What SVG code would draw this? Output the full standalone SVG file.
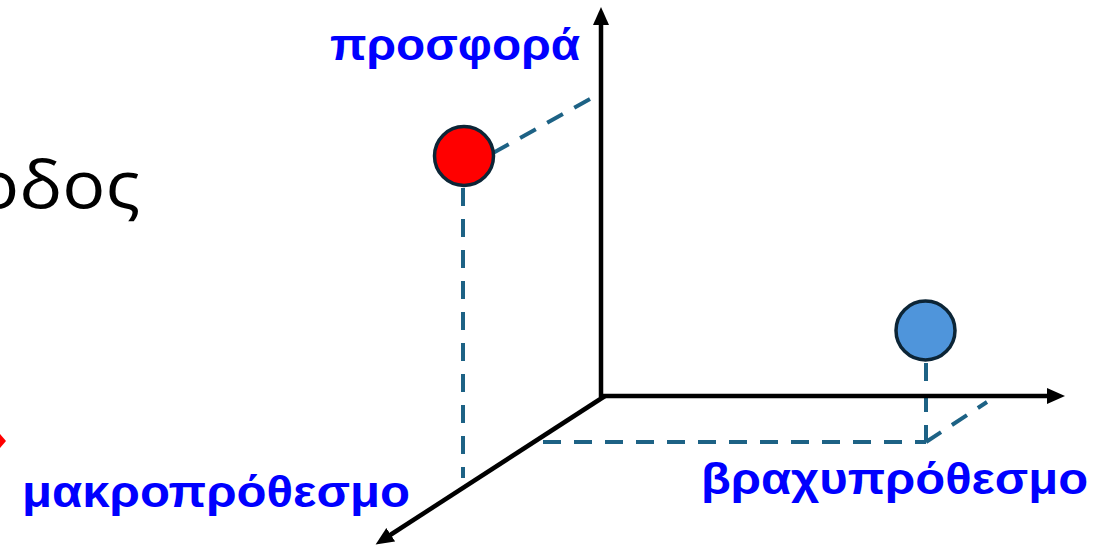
<svg xmlns="http://www.w3.org/2000/svg" width="1093" height="546" viewBox="0 0 1093 546">
<style>
.axis{stroke:#000;stroke-width:4.5;fill:none}
.dash{stroke:#1d6285;stroke-width:4;stroke-dasharray:18 13;fill:none}
.lbl{font-family:"Liberation Sans",Arial,sans-serif;font-weight:bold;font-size:45px;fill:#0000ff}
.dot{stroke:#0c2536;stroke-width:3.5}
</style>
<defs>
<marker id="arr" markerUnits="userSpaceOnUse" markerWidth="20" markerHeight="18" refX="8" refY="8" orient="auto">
<path d="M0,0 L18,8 L0,16 z" fill="#000"/>
</marker>
</defs>
<rect width="1093" height="546" fill="#fff"/>
<text x="-24" y="208" textLength="164" lengthAdjust="spacingAndGlyphs" style="font-family:'Open Sans','DejaVu Sans',sans-serif;font-size:66px;fill:#000">οδος</text>
<polygon points="0,434 6,441 0,448" fill="#ff0000"/>
<g id="connectors">
<line class="dash" x1="463" y1="188" x2="463" y2="478"/>
<line class="dash" x1="493" y1="153" x2="599" y2="94"/>
<line class="dash" x1="926" y1="363" x2="926" y2="442"/>
<line class="dash" x1="543" y1="442" x2="926" y2="442"/>
<line class="dash" x1="926" y1="442" x2="987" y2="402"/>
</g>
<g id="axes">
<line class="axis" x1="601" y1="397" x2="601" y2="17" marker-end="url(#arr)"/>
<line class="axis" x1="599" y1="396" x2="1055" y2="396" marker-end="url(#arr)"/>
<line class="axis" x1="605" y1="396" x2="384" y2="539" marker-end="url(#arr)"/>
</g>
<g id="red-point"><circle class="dot" cx="464" cy="156" r="29.5" fill="#ff0000"/></g>
<g id="blue-point"><circle class="dot" cx="925.5" cy="330.5" r="29.5" fill="#4f95db"/></g>
<g id="label-supply"><text class="lbl" x="330" y="60" textLength="250" lengthAdjust="spacingAndGlyphs">προσφορά</text></g>
<g id="label-long"><text class="lbl" x="22" y="507" textLength="388" lengthAdjust="spacingAndGlyphs">μακροπρόθεσμο</text></g>
<g id="label-short"><text class="lbl" x="701" y="494" textLength="387" lengthAdjust="spacingAndGlyphs">βραχυπρόθεσμο</text></g>
</svg>
